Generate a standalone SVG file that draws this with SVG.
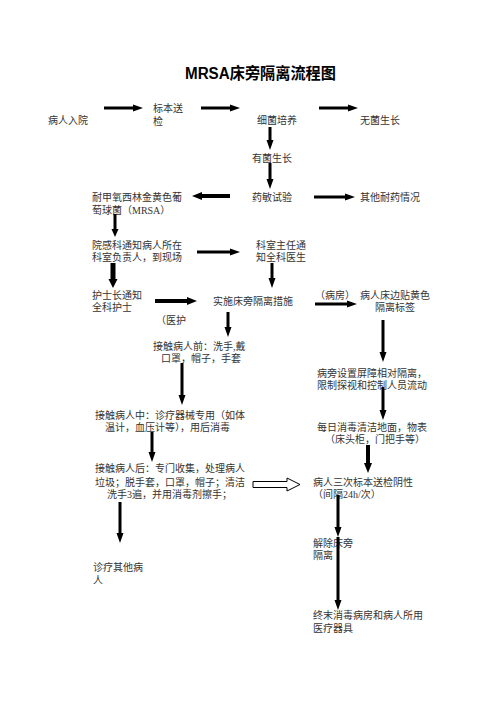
<svg xmlns="http://www.w3.org/2000/svg" width="496" height="702" viewBox="0 0 496 702">
<style>
text{font-family:"Liberation Serif","Noto Sans CJK SC",serif;font-size:10px;fill:#333}
.t{font-family:"Liberation Sans","Noto Sans CJK SC",sans-serif;font-size:16px;font-weight:bold;fill:#000}
.a{fill:#000}
.h{fill:#fff;stroke:#000;stroke-width:1}
</style>
<rect width="496" height="702" fill="#fff"/>
<g id="title"><text class="t" x="185" y="79" textLength="151" lengthAdjust="spacingAndGlyphs">MRSA床旁隔离流程图</text></g>
<g id="n1"><text x="48" y="124">病人入院</text></g>
<g id="n2"><text x="153" y="112">标本送</text><text x="153" y="125">检</text></g>
<g id="n3"><text x="257" y="124">细菌培养</text></g>
<g id="n4"><text x="360" y="124">无菌生长</text></g>
<g id="n5"><text x="252" y="162">有菌生长</text></g>
<g id="n6"><text x="252" y="201">药敏试验</text></g>
<g id="n7"><text x="92" y="201">耐甲氧西林金黄色葡</text><text x="92" y="214">萄球菌（MRSA）</text></g>
<g id="n8"><text x="360" y="201">其他耐药情况</text></g>
<g id="n9"><text x="92" y="249">院感科通知病人所在</text><text x="92" y="261">科室负责人，到现场</text></g>
<g id="n10"><text x="256" y="249">科室主任通</text><text x="256" y="261">知全科医生</text></g>
<g id="n11"><text x="92" y="299">护士长通知</text><text x="92" y="311">全科护士</text></g>
<g id="n12"><text x="213" y="305">实施床旁隔离措施</text></g>
<g id="l1"><text x="156" y="324">（医护</text></g>
<g id="l2"><text x="315" y="299">（病房）</text></g>
<g id="n13"><text x="360" y="299">病人床边贴黄色</text><text x="375" y="311">隔离标签</text></g>
<g id="n14"><text x="153" y="350">接触病人前：洗手,戴</text><text x="161" y="362">口罩，帽子，手套</text></g>
<g id="n15"><text x="317" y="377">病旁设置屏障相对隔离，</text><text x="317" y="389">限制探视和控制人员流动</text></g>
<g id="n16"><text x="95" y="419">接触病人中：诊疗器械专用（如体</text><text x="105" y="431">温计，血压计等），用后消毒</text></g>
<g id="n17"><text x="317" y="431">每日消毒清洁地面，物表</text><text x="325" y="443">（床头柜，门把手等）</text></g>
<g id="n18"><text x="95" y="472">接触病人后：专门收集，处理病人</text><text x="95" y="486">垃圾；脱手套，口罩，帽子；清洁</text><text x="107" y="498">洗手3遍，并用消毒剂擦手；</text></g>
<g id="n19"><text x="313" y="486">病人三次标本送检阴性</text><text x="313" y="498">（间隔24h/次）</text></g>
<g id="n20"><text x="313" y="547">解除床旁</text><text x="313" y="559">隔离</text></g>
<g id="n21"><text x="93" y="571">诊疗其他病</text><text x="93" y="584">人</text></g>
<g id="n22"><text x="313" y="619">终末消毒病房和病人所用</text><text x="313" y="632">医疗器具</text></g>
<g id="connectors">
<polygon class="a" points="104,106.5 133,106.5 133,104.5 143,108 133,111.5 133,109.5 104,109.5"/>
<polygon class="a" points="201,106.5 230,106.5 230,104.5 240,108 230,111.5 230,109.5 201,109.5"/>
<polygon class="a" points="319,106.5 348,106.5 348,104.5 358,108 348,111.5 348,109.5 319,109.5"/>
<polygon class="a" points="268.5,127 268.5,140 266.5,140 270,150 273.5,140 271.5,140 271.5,127"/>
<polygon class="a" points="268.5,163 268.5,179 266.5,179 270,189 273.5,179 271.5,179 271.5,163"/>
<polygon class="a" points="230,194 202,194 202,192 192,196 202,200 202,198 230,198"/>
<polygon class="a" points="314,195.5 345,195.5 345,193.5 355,197 345,200.5 345,198.5 314,198.5"/>
<polygon class="a" points="113.5,214 113.5,229 111.5,229 115,237 118.5,229 116.5,229 116.5,214"/>
<polygon class="a" points="197,250.5 230,250.5 230,248.5 240,252 230,255.5 230,253.5 197,253.5"/>
<polygon class="a" points="110.5,263 110.5,279 108.5,279 113,288 117.5,279 115.5,279 115.5,263"/>
<polygon class="a" points="270.5,263 270.5,278 268.5,278 272,288 275.5,278 273.5,278 273.5,263"/>
<polygon class="a" points="155,299 187,299 187,297 197,301 187,305 187,303 155,303"/>
<polygon class="a" points="315,302.5 347,302.5 347,300.5 357,304 347,307.5 347,305.5 315,305.5"/>
<polygon class="a" points="226.5,312 226.5,327 224.5,327 228,337 231.5,327 229.5,327 229.5,312"/>
<polygon class="a" points="381.5,320 381.5,352 379.5,352 383,362 386.5,352 384.5,352 384.5,320"/>
<polygon class="a" points="180.5,363 180.5,395 178.5,395 182,405 185.5,395 183.5,395 183.5,363"/>
<polygon class="a" points="381.5,387 381.5,410 379.5,410 383,420 386.5,410 384.5,410 384.5,387"/>
<polygon class="a" points="150.5,432 150.5,452 148.5,452 152,462 155.5,452 153.5,452 153.5,432"/>
<polygon class="a" points="366,445 366,463 364,463 368,473 372,463 370,463 370,445"/>
<polygon class="h" points="253,481.5 287,481.5 287,478 300,484.5 287,491 287,487.5 253,487.5"/>
<polygon class="a" points="336.5,495 336.5,527 334.5,527 338,537 341.5,527 339.5,527 339.5,495"/>
<polygon class="a" points="118.5,502 118.5,533 116.5,533 120,543 123.5,533 121.5,533 121.5,502"/>
<polygon class="a" points="336.5,537 336.5,600 334.5,600 338,610 341.5,600 339.5,600 339.5,537"/>
</g>
</svg>
